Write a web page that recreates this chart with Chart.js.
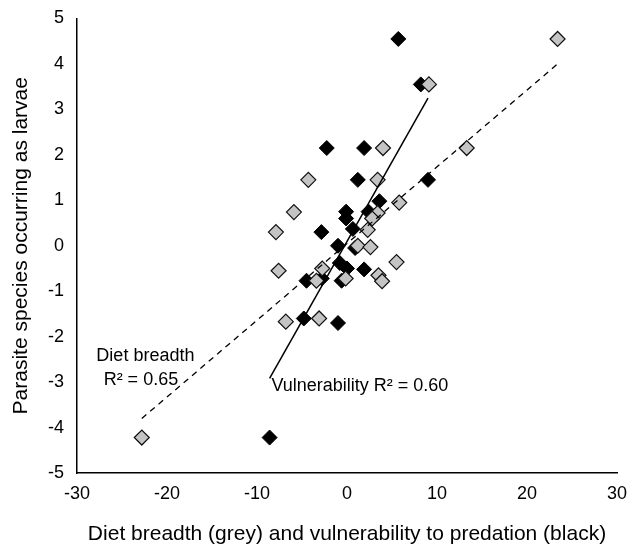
<!DOCTYPE html>
<html>
<head>
<meta charset="utf-8">
<script src="https://cdn.jsdelivr.net/npm/chart.js@4/dist/chart.umd.min.js"></script>
<style>
    html, body { margin: 0; padding: 0; background: #fff; }
</style>
</head>
<body>
<canvas id="chart" width="628" height="547"></canvas>
<script>
// diet breadth (grey diamonds)
const dietX = [23.4, 9.1, 4.0, 13.3, 3.4, -4.3, 5.8, -5.9, 3.4, 2.8, -7.9, 2.3, 1.2, 2.6, 5.5, -7.6, -2.75, -3.4, -0.15, 3.5, 3.9, -6.8, -3.1, -22.8];
const dietY = [4.55, 3.55, 2.15, 2.15, 1.45, 1.45, 0.95, 0.74, 0.72, 0.6, 0.3, 0.35, 0.0, -0.03, -0.36, -0.55, -0.5, -0.77, -0.72, -0.65, -0.78, -1.67, -1.6, -4.22];

// vulnerability to predation (black diamonds)
const vulnX = [5.7, 8.2, -2.25, 1.9, 1.2, 9.0, 3.6, -0.1, -0.1, 2.4, 0.65, -2.85, -1.0, 0.9, -0.8, 0.0, 1.9, -4.5, -2.8, -0.6, -4.8, -1.0, -8.6];
const vulnY = [4.55, 3.55, 2.15, 2.15, 1.45, 1.45, 0.98, 0.75, 0.6, 0.75, 0.37, 0.3, 0.0, -0.05, -0.38, -0.5, -0.52, -0.77, -0.72, -0.77, -1.6, -1.7, -4.22];

// trend lines (end points)
const dietFitX = [-22.8, 23.4];
const dietFitY = [-3.8, 4.0];
const vulnFitX = [-8.6, 9.0];
const vulnFitY = [-2.92, 3.25];

const xTicks = [-30, -20, -10, 0, 10, 20, 30];
const yTicks = [-5, -4, -3, -2, -1, 0, 1, 2, 3, 4, 5];

// labels placed in data units
const notes = [
    { text: 'Diet breadth', x: -22.4, y: -2.43, align: 'center' },
    { text: 'R\u00B2 = 0.65', x: -22.9, y: -2.96, align: 'center' },
    { text: 'Vulnerability R\u00B2 = 0.60', x: -8.4, y: -3.09, align: 'left' }
];

const toPoints = (xs, ys) => xs.map((x, i) => ({ x: x, y: ys[i] }));

const notePlugin = {
    id: 'notes',
    afterDatasetsDraw(chart) {
        const ctx = chart.ctx;
        const xs = chart.scales.x, ys = chart.scales.y;
        ctx.save();
        ctx.font = '18px "Liberation Sans", Arial, sans-serif';
        ctx.fillStyle = '#000';
        ctx.textBaseline = 'middle';
        notes.forEach(n => {
            ctx.textAlign = n.align;
            ctx.fillText(n.text, xs.getPixelForValue(n.x), ys.getPixelForValue(n.y));
        });
        ctx.restore();
    }
};

// keep the plot box fixed: no extra room for overhanging tick labels
const noOverhang = (s) => {
    s.paddingLeft = 0;
    s.paddingRight = 0;
    s.paddingTop = 0;
    s.paddingBottom = 0;
};

new Chart(document.getElementById('chart'), {
    type: 'scatter',
    data: {
        datasets: [
            {
                type: 'line',
                label: 'Diet breadth fit',
                data: toPoints(dietFitX, dietFitY),
                borderColor: '#000',
                borderWidth: 1.3,
                borderDash: [6, 5],
                pointRadius: 0,
                fill: false
            },
            {
                type: 'line',
                label: 'Vulnerability fit',
                data: toPoints(vulnFitX, vulnFitY),
                borderColor: '#000',
                borderWidth: 1.5,
                pointRadius: 0,
                fill: false
            },
            {
                label: 'Diet breadth',
                data: toPoints(dietX, dietY),
                pointStyle: 'rectRot',
                pointRadius: 7.5,
                backgroundColor: '#c4c4c4',
                borderColor: '#111',
                borderWidth: 1.2
            },
            {
                label: 'Vulnerability',
                data: toPoints(vulnX, vulnY),
                pointStyle: 'rectRot',
                pointRadius: 7.5,
                backgroundColor: '#000',
                borderColor: '#000',
                borderWidth: 1
            }
        ]
    },
    options: {
        responsive: false,
        animation: false,
        layout: { padding: { top: 18.5, right: 11, left: 0, bottom: 0 } },
        plugins: {
            legend: { display: false },
            tooltip: { enabled: false }
        },
        scales: {
            x: {
                type: 'linear',
                min: -30,
                max: 30,
                afterBuildTicks: (s) => { s.ticks = xTicks.map(v => ({ value: v })); },
                afterFit: (s) => { s.height = 74; noOverhang(s); },
                grid: { display: false, drawTicks: false },
                border: { color: '#000', width: 1.5 },
                ticks: { color: '#000', padding: 10, font: { family: '"Liberation Sans", Arial', size: 18 } },
                title: {
                    display: true,
                    text: 'Diet breadth (grey) and vulnerability to predation (black)',
                    color: '#000',
                    padding: { top: 0, bottom: 0 },
                    font: { family: '"Liberation Sans", Arial', size: 21 }
                }
            },
            y: {
                type: 'linear',
                min: -5,
                max: 5,
                afterBuildTicks: (s) => { s.ticks = yTicks.map(v => ({ value: v })); },
                afterFit: (s) => { s.width = 77; noOverhang(s); },
                grid: { display: false, drawTicks: false },
                border: { color: '#000', width: 1.5 },
                ticks: { color: '#000', padding: 13, font: { family: '"Liberation Sans", Arial', size: 18 } },
                title: {
                    display: true,
                    text: 'Parasite species occurring as larvae',
                    color: '#000',
                    padding: { top: 9, bottom: 0 },
                    font: { family: '"Liberation Sans", Arial', size: 21 }
                }
            }
        }
    },
    plugins: [notePlugin]
});
</script>
</body>
</html>
